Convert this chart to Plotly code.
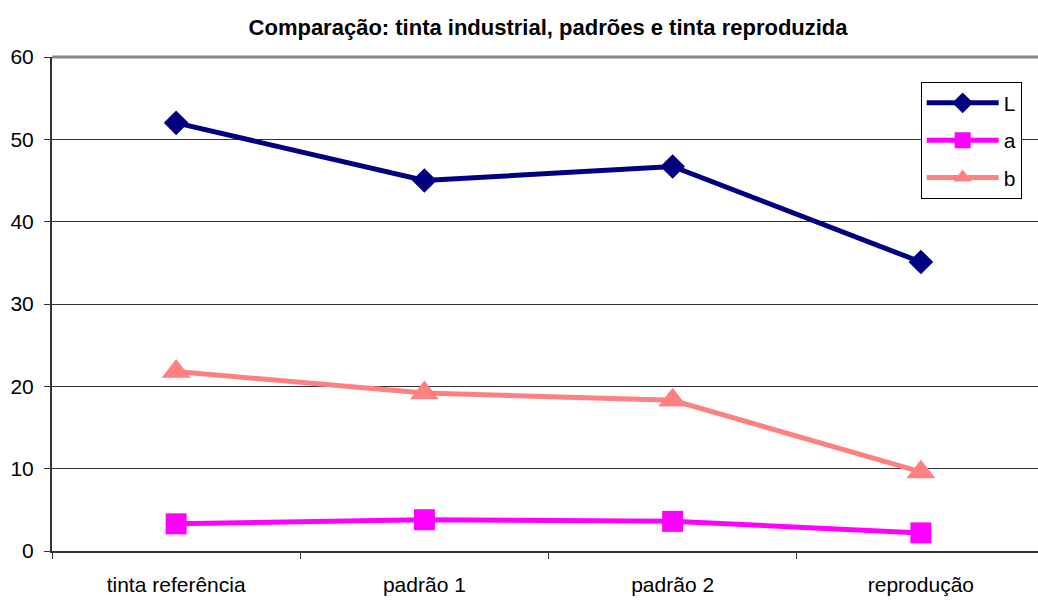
import plotly.graph_objects as go

categories = ["tinta referência", "padrão 1", "padrão 2", "reprodução"]
L_vals = [52.0, 45.0, 46.7, 35.1]
a_vals = [3.3, 3.8, 3.6, 2.2]
b_vals = [21.8, 19.2, 18.3, 9.6]
y_ticks = [0, 10, 20, 30, 40, 50, 60]

series = [
    ("L", L_vals, "#000080", "diamond", 19),
    ("a", a_vals, "#FF00FF", "square", 21),
    ("b", b_vals, "#FF8080", "triangle-up", 25),
]

fig = go.Figure()
for name, vals, color, symbol, msize in series:
    fig.add_trace(go.Scatter(
        x=categories, y=vals, name=name, legendgroup=name, mode="lines+markers",
        line=dict(color=color, width=5),
        marker=dict(symbol=symbol, size=msize, color=color, line=dict(width=0)),
    ))

font = "Liberation Sans, Arial, sans-serif"
fig.update_layout(
    width=1038, height=600,
    margin=dict(l=52, r=0, t=57, b=49),
    paper_bgcolor="white", plot_bgcolor="white",
    font=dict(family=font, size=21, color="black"),
    title=dict(text="<b>Comparação: tinta industrial, padrões e tinta reproduzida</b>",
               x=0.528, xanchor="center", y=0.955, yanchor="middle",
               font=dict(size=22, family=font)),
    showlegend=True,
    legend=dict(x=0.881, y=0.95, xanchor="left", yanchor="top",
                bgcolor="white", bordercolor="black", borderwidth=1,
                font=dict(size=21), itemwidth=72, tracegroupgap=7,
                traceorder="grouped"),
)
fig.update_xaxes(
    type="category", range=[-0.5, 3.4718],
    showline=True, linecolor="#333", linewidth=2,
    ticks="outside", tickson="boundaries", ticklen=6, tickcolor="#333",
    ticklabelstandoff=14,
    showgrid=False, zeroline=False,
)
fig.update_yaxes(
    range=[0, 60], tickvals=y_ticks,
    showline=True, linecolor="#333", linewidth=2,
    ticks="outside", ticklen=6, tickcolor="#333",
    ticklabelstandoff=6,
    showgrid=True, gridcolor="#333", gridwidth=1, zeroline=False,
)
fig.add_shape(type="line", xref="paper", yref="paper", x0=0, x1=1, y0=1, y1=1,
              line=dict(color="#888", width=3))

fig.write_html("out.html")
